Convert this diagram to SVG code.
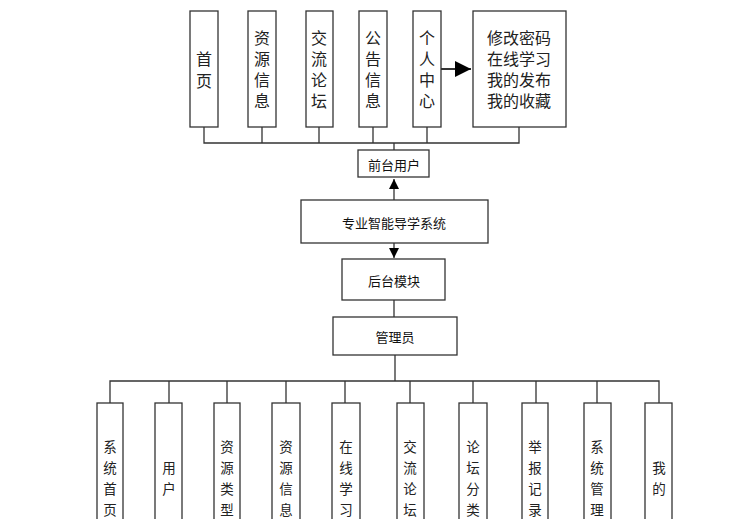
<svg xmlns="http://www.w3.org/2000/svg" width="732" height="519" viewBox="0 0 732 519">
<style>
.b{fill:#fff;stroke:#333;stroke-width:1.3}
.t{font-family:"Noto Sans CJK SC",sans-serif;font-size:16px;fill:#222;text-anchor:middle;dominant-baseline:central}
.m{font-family:"Noto Sans CJK SC",sans-serif;font-size:13px;fill:#111;text-anchor:middle;dominant-baseline:central}
.s{font-family:"Noto Sans CJK SC",sans-serif;font-size:13.5px;fill:#222;text-anchor:middle;dominant-baseline:central}
.l{fill:none;stroke:#333;stroke-width:1.3}
</style>
<defs><marker id="a" viewBox="0 0 10 10" refX="10" refY="5" markerWidth="8" markerHeight="8" orient="auto"><path d="M0,0L10,5L0,10z" fill="#000"/></marker></defs>
<g id="connectors">
<path class="l" d="M204,127V143H519V127M262,127V143M319,127V143M373,127V143M427,127V143M394,143V150"/>
<path class="l" d="M394,200V179" marker-end="url(#a)"/>
<path class="l" d="M394,243V258" marker-end="url(#a)"/>
<path class="l" d="M394,300V317"/>
<path class="l" d="M441,69H471" marker-end="url(#a)" style="stroke-width:2"/>
<path class="l" d="M395,355V381M110,403V381H659V403M169,381V403M227,381V403M286,381V403M345,381V403M410,381V403M473,381V403M536,381V403M597,381V403"/>
</g>
<g id="n1"><rect class="b" x="190" y="11" width="28" height="116"/><text class="t" x="204" y="58">首</text><text class="t" x="204" y="80">页</text></g>
<g id="n2"><rect class="b" x="248" y="11" width="28" height="116"/><text class="t" x="262" y="37">资</text><text class="t" x="262" y="58">源</text><text class="t" x="262" y="79">信</text><text class="t" x="262" y="100">息</text></g>
<g id="n3"><rect class="b" x="306" y="11" width="27" height="116"/><text class="t" x="319" y="37">交</text><text class="t" x="319" y="58">流</text><text class="t" x="319" y="79">论</text><text class="t" x="319" y="100">坛</text></g>
<g id="n4"><rect class="b" x="359" y="11" width="28" height="116"/><text class="t" x="373" y="37">公</text><text class="t" x="373" y="58">告</text><text class="t" x="373" y="79">信</text><text class="t" x="373" y="100">息</text></g>
<g id="n5"><rect class="b" x="413" y="11" width="28" height="116"/><text class="t" x="427" y="37">个</text><text class="t" x="427" y="58">人</text><text class="t" x="427" y="79">中</text><text class="t" x="427" y="100">心</text></g>
<g id="n6"><rect class="b" x="473" y="11" width="93" height="116"/><text class="t" x="519" y="37">修改密码</text><text class="t" x="519" y="58">在线学习</text><text class="t" x="519" y="79">我的发布</text><text class="t" x="519" y="100">我的收藏</text></g>
<g id="front"><rect class="b" x="358" y="150" width="71" height="27"/><text class="m" x="394" y="164">前台用户</text></g>
<g id="sys"><rect class="b" x="301" y="200" width="187" height="43"/><text class="m" x="394" y="222">专业智能导学系统</text></g>
<g id="back"><rect class="b" x="342" y="259" width="103" height="41"/><text class="m" x="394" y="280">后台模块</text></g>
<g id="admin"><rect class="b" x="333" y="317" width="124" height="38"/><text class="m" x="395" y="336">管理员</text></g>
<g id="b1"><rect class="b" x="97" y="403" width="26" height="130"/><text class="s" x="110" y="446">系</text><text class="s" x="110" y="467">统</text><text class="s" x="110" y="488">首</text><text class="s" x="110" y="509">页</text></g>
<g id="b2"><rect class="b" x="155" y="403" width="27" height="130"/><text class="s" x="169" y="467">用</text><text class="s" x="169" y="488">户</text></g>
<g id="b3"><rect class="b" x="214" y="403" width="26" height="130"/><text class="s" x="227" y="446">资</text><text class="s" x="227" y="467">源</text><text class="s" x="227" y="488">类</text><text class="s" x="227" y="509">型</text></g>
<g id="b4"><rect class="b" x="272" y="403" width="28" height="130"/><text class="s" x="286" y="446">资</text><text class="s" x="286" y="467">源</text><text class="s" x="286" y="488">信</text><text class="s" x="286" y="509">息</text></g>
<g id="b5"><rect class="b" x="332" y="403" width="28" height="130"/><text class="s" x="346" y="446">在</text><text class="s" x="346" y="467">线</text><text class="s" x="346" y="488">学</text><text class="s" x="346" y="509">习</text></g>
<g id="b6"><rect class="b" x="397" y="403" width="27" height="130"/><text class="s" x="410" y="446">交</text><text class="s" x="410" y="467">流</text><text class="s" x="410" y="488">论</text><text class="s" x="410" y="509">坛</text></g>
<g id="b7"><rect class="b" x="459" y="403" width="28" height="130"/><text class="s" x="473" y="446">论</text><text class="s" x="473" y="467">坛</text><text class="s" x="473" y="488">分</text><text class="s" x="473" y="509">类</text></g>
<g id="b8"><rect class="b" x="522" y="403" width="26" height="130"/><text class="s" x="535" y="446">举</text><text class="s" x="535" y="467">报</text><text class="s" x="535" y="488">记</text><text class="s" x="535" y="509">录</text></g>
<g id="b9"><rect class="b" x="584" y="403" width="27" height="130"/><text class="s" x="597" y="446">系</text><text class="s" x="597" y="467">统</text><text class="s" x="597" y="488">管</text><text class="s" x="597" y="509">理</text></g>
<g id="b10"><rect class="b" x="645" y="403" width="27" height="130"/><text class="s" x="659" y="467">我</text><text class="s" x="659" y="488">的</text></g>
</svg>
